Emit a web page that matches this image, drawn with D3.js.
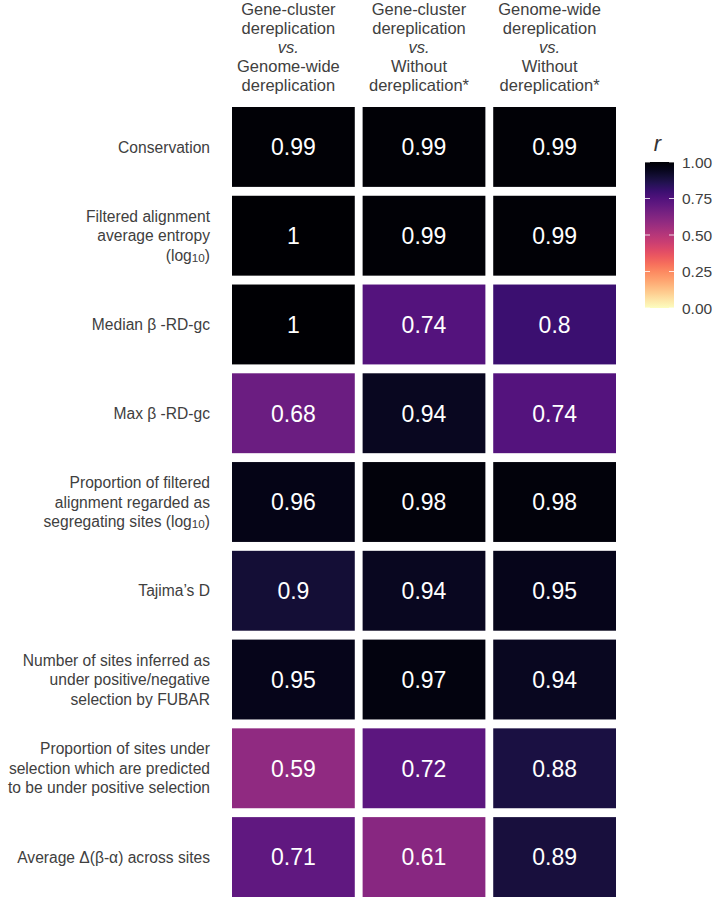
<!DOCTYPE html>
<html>
<head>
<meta charset="utf-8">
<script src="https://cdn.jsdelivr.net/npm/d3@7"></script>
<style>
  html, body { margin: 0; padding: 0; background: #ffffff; }
  svg { display: block; }
  text { font-family: "Liberation Sans", Arial, Helvetica, sans-serif; }
</style>
</head>
<body>
<div id="chart"></div>
<script>
// ---- Data ----
const columns = [
  ["Gene-cluster", "dereplication", "vs.", "Genome-wide", "dereplication"],
  ["Gene-cluster", "dereplication", "vs.", "Without", "dereplication*"],
  ["Genome-wide", "dereplication", "vs.", "Without", "dereplication*"]
];
const rowLabels = [
  ["Conservation"],
  ["Filtered alignment", "average entropy", "(log|10|)"],
  ["Median β -RD-gc"],
  ["Max β -RD-gc"],
  ["Proportion of filtered", "alignment regarded as", "segregating sites (log|10|)"],
  ["Tajima’s D"],
  ["Number of sites inferred as", "under positive/negative", "selection by FUBAR"],
  ["Proportion of sites under", "selection which are predicted", "to be under positive selection"],
  ["Average Δ(β-α) across sites"]
];
const colA = [0.99, 1, 1, 0.68, 0.96, 0.9, 0.95, 0.59, 0.71];
const colB = [0.99, 0.99, 0.74, 0.94, 0.98, 0.94, 0.97, 0.72, 0.61];
const colC = [0.99, 0.99, 0.8, 0.74, 0.98, 0.95, 0.94, 0.88, 0.89];
const legendTicks = [0, 0.25, 0.5, 0.75, 1];
const legendTitle = "r";

// ---- Layout ----
const W = 715, H = 899;
const svg = d3.select("#chart").append("svg").attr("width", W).attr("height", H);

const x = d3.scaleBand().domain(d3.range(columns.length)).range([232, 616]).paddingInner(0.06);
const y = d3.scaleBand().domain(d3.range(rowLabels.length)).range([107, 897]).paddingInner(0.1);
const color = r => d3.interpolateMagma(1 - r);

const series = [colA, colB, colC];
const cells = [];
series.forEach((vals, c) => vals.forEach((v, r) => cells.push({c, r, v})));

const fmt = v => (v === 1 ? "1" : String(v));
const textCol = "#404040";

svg.append("g").selectAll("rect").data(cells).join("rect")
  .attr("x", d => x(d.c)).attr("y", d => y(d.r))
  .attr("width", x.bandwidth()).attr("height", y.bandwidth())
  .attr("fill", d => color(d.v));

svg.append("g").selectAll("text").data(cells).join("text")
  .attr("x", d => x(d.c) + x.bandwidth() / 2)
  .attr("y", d => y(d.r) + y.bandwidth() / 2)
  .attr("dy", "0.36em")
  .attr("text-anchor", "middle")
  .attr("fill", "#ffffff")
  .attr("font-size", 23)
  .text(d => fmt(d.v));

// Row labels
const lh = 19.5;
const rfs = 15.6;
function addLine(t, s, size) {
  const parts = s.split("|");
  parts.forEach((p, i) => {
    if (!p) return;
    const ts = t.append("tspan").text(p);
    if (i % 2 === 1) ts.attr("font-size", size * 0.75).attr("baseline-shift", "-0.05em");
  });
}
const rl = svg.append("g");
rowLabels.forEach((lines, i) => {
  const cy = y(i) + y.bandwidth() / 2;
  lines.forEach((ln, k) => {
    const t = rl.append("text")
      .attr("x", 210)
      .attr("y", cy + (k - (lines.length - 1) / 2) * lh)
      .attr("dy", "0.36em")
      .attr("text-anchor", "end")
      .attr("fill", textCol)
      .attr("font-size", rfs);
    addLine(t, ln, rfs);
  });
});

// Column headers
const hl = svg.append("g");
columns.forEach((lines, c) => {
  const cx = x(c) + x.bandwidth() / 2 - 5;
  lines.forEach((ln, k) => {
    hl.append("text")
      .attr("x", cx)
      .attr("y", 9.5 + k * 18.8)
      .attr("dy", "0.36em")
      .attr("text-anchor", "middle")
      .attr("fill", textCol)
      .attr("font-size", 16.5)
      .attr("font-style", ln === "vs." ? "italic" : "normal")
      .text(ln);
  });
});

// Legend
const lx = 645, lw = 29;
const ly = d3.scaleLinear().domain([0, 1]).range([308, 162]);
const defs = svg.append("defs");
const grad = defs.append("linearGradient").attr("id", "lg")
  .attr("x1", 0).attr("y1", 1).attr("x2", 0).attr("y2", 0);
d3.range(0, 1.0001, 0.05).forEach(t => {
  grad.append("stop").attr("offset", t).attr("stop-color", color(t));
});
svg.append("rect").attr("x", lx).attr("y", ly(1)).attr("width", lw)
  .attr("height", ly(0) - ly(1)).attr("fill", "url(#lg)");
const lg = svg.append("g");
lg.selectAll("line.l").data(legendTicks).join("line")
  .attr("x1", lx).attr("x2", lx + 5).attr("y1", d => ly(d)).attr("y2", d => ly(d))
  .attr("stroke", "#ffffff").attr("stroke-opacity", 0.8).attr("stroke-width", 1);
lg.selectAll("line.r").data(legendTicks).join("line")
  .attr("x1", lx + lw - 5).attr("x2", lx + lw).attr("y1", d => ly(d)).attr("y2", d => ly(d))
  .attr("stroke", "#ffffff").attr("stroke-opacity", 0.8).attr("stroke-width", 1);
lg.selectAll("text").data(legendTicks).join("text")
  .attr("x", lx + lw + 8).attr("y", d => ly(d)).attr("dy", "0.36em")
  .attr("fill", textCol).attr("font-size", 15.5)
  .text(d => d3.format(".2f")(d));
svg.append("text").attr("x", lx + lw / 2 - 2).attr("y", 151)
  .attr("text-anchor", "middle").attr("font-style", "italic")
  .attr("font-family", "'DejaVu Sans', sans-serif")
  .attr("font-size", 22).attr("fill", "#333").text(legendTitle);
</script>
</body>
</html>
